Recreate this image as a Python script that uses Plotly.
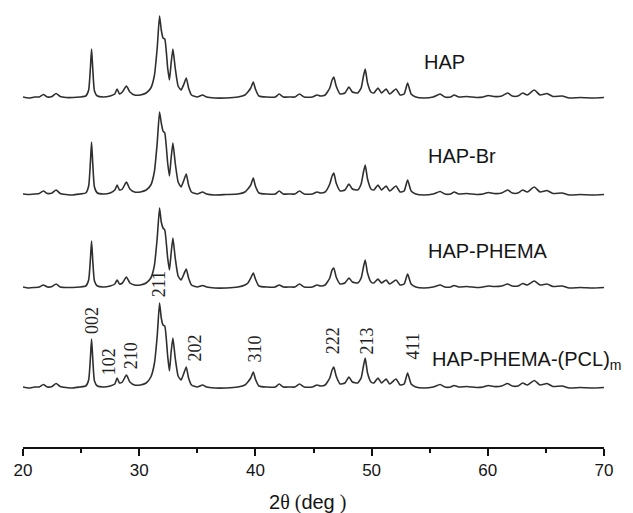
import plotly.graph_objects as go

# 2-theta grid (deg) shared by the four patterns (vertices)
two_theta = [
    20.0, 20.5, 21.0, 21.4, 21.75, 22.1, 22.5, 22.85, 23.2, 23.7,
    24.3, 24.9, 25.4, 25.65, 25.8, 25.9, 26.0, 26.15, 26.4, 26.9,
    27.5, 27.9, 28.1, 28.3, 28.55, 28.9, 29.2, 29.6, 30.1, 30.6,
    31.0, 31.3, 31.55, 31.75, 31.9, 32.05, 32.2, 32.45, 32.6, 32.75,
    32.9, 33.1, 33.35, 33.6, 33.85, 34.05, 34.25, 34.5, 35.0, 35.45,
    35.8, 36.5, 37.5, 38.5, 39.1, 39.35, 39.6, 39.82, 40.0, 40.3,
    41.0, 41.7, 42.05, 42.4, 43.0, 43.4, 43.8, 44.2, 44.9, 45.3,
    45.6, 46.0, 46.4, 46.6, 46.75, 46.95, 47.3, 47.7, 48.05, 48.35,
    48.8, 49.1, 49.3, 49.45, 49.65, 49.95, 50.2, 50.55, 50.85, 51.25,
    51.55, 52.1, 52.45, 52.8, 53.1, 53.4, 53.8, 54.5, 55.3, 55.9,
    56.3, 56.8, 57.1, 57.5, 58.2, 59.0, 59.6, 60.05, 60.5, 61.2,
    61.7, 62.1, 62.6, 63.0, 63.4, 64.0, 64.5, 65.1, 65.6, 66.4,
    67.0, 68.0, 69.0, 70.0,
]

# intensities (a.u.) for each sample
hap = [
    1, 0, 1, 1, 3.5, 1, 1.5, 4.5, 1.5, 0.5,
    0.5, 1, 2, 8, 30, 49, 30, 7, 2, 1,
    2, 4, 9, 4, 6, 12, 6, 3, 3, 5,
    10, 22, 50, 82, 68, 60, 59, 30, 18, 35,
    49, 30, 12, 8, 14, 20, 10, 3, 1, 3,
    1, 0, 0, 1, 3, 6, 10, 16, 9, 2,
    1, 1, 4, 1, 1, 1, 4, 1, 1, 3,
    2, 3, 10, 18, 21, 12, 4, 5, 11, 6,
    5, 10, 22, 29, 15, 6, 5, 10, 5, 9,
    4, 9, 3, 4, 15, 4, 1, 0, 1, 4,
    1, 1, 3, 1, 1.5, 0.5, 1, 2.5, 1.5, 2,
    5, 2, 2, 5, 3, 8, 3, 4.5, 1.5, 2,
    0, 0.5, 0, 0.5,
]
hap_br = [
    1, 0.5, 1, 1.5, 4, 1.5, 2, 5, 1.5, 0.5,
    0, 1, 2, 9, 33, 53, 32, 8, 2, 1,
    2, 5, 10, 5, 6, 13, 6, 3, 3, 5,
    10, 23, 52, 83, 72, 64, 62, 32, 19, 37,
    52, 32, 13, 8, 15, 21, 10, 3, 1, 3,
    1, 0, 0.5, 1, 3, 6, 10, 17, 9, 2,
    1, 1, 4, 1, 1, 1, 4, 1, 1, 3,
    2, 3, 11, 19, 22, 12, 4, 5, 11, 6,
    5, 11, 23, 30, 16, 6, 5, 10, 5, 9,
    4, 9, 3, 4, 15, 4, 1, 0, 1, 3.5,
    1, 1, 3, 1, 1.5, 0.5, 1, 2.5, 1.5, 2,
    5, 2, 2, 5, 3, 8, 3, 4.5, 1.5, 2,
    0, 0.5, 0, 0.5,
]
hap_phema = [
    1, 0, 0.5, 1, 3, 1, 1.5, 4, 1, 0.5,
    0.5, 1, 2, 8, 29, 47, 28, 7, 2, 1,
    2, 4, 8, 4, 5, 11, 5, 3, 3, 5,
    10, 22, 50, 80, 66, 60, 58, 30, 18, 35,
    50, 30, 12, 8, 14, 19, 10, 3, 1, 2.5,
    1, 0, 0, 1, 3, 5, 10, 15, 9, 2,
    1, 1, 3, 1, 1, 1, 4, 1, 1, 3,
    2, 3, 10, 18, 20, 11, 4, 5, 10, 6,
    5, 10, 21, 28, 15, 6, 5, 9, 5, 8,
    4, 8, 3, 4, 14, 4, 1, 0, 1, 3,
    1, 1, 2.5, 1, 1.5, 0.5, 1, 2, 1.5, 2,
    4, 2, 2, 4.5, 3, 7, 3, 4, 1.5, 2,
    0, 0.5, 0, 0.5,
]
hap_phema_pcl = [
    1, 0, 1, 1, 3.5, 1, 1.5, 4.5, 1.5, 0.5,
    0, 1, 2, 8, 30, 49, 30, 7, 2, 1,
    2, 4, 10, 5, 6, 13, 6, 3, 3, 5,
    11, 24, 52, 85, 70, 63, 62, 32, 17, 36,
    50, 30, 12, 8, 15, 21, 10, 3, 1, 3,
    1, 0, 0, 1, 3, 6, 10, 16, 9, 2,
    1, 1, 4, 1, 1, 1, 4, 1, 1, 3,
    2, 3, 10, 18, 21, 12, 4, 5, 11, 6,
    5, 10, 22, 30, 15, 6, 5, 10, 5, 9,
    4, 9, 3, 4, 15, 4, 1, 0, 1, 3.5,
    1, 1, 2.5, 1, 1.5, 0.5, 1, 2.5, 1.5, 2,
    4.5, 2, 2, 5, 3, 7.5, 3, 4.5, 1.5, 2,
    0, 0.5, 0, 0.5,
]

series_names = ["HAP", "HAP-Br", "HAP-PHEMA", "HAP-PHEMA-(PCL)<sub>m</sub>"]
series_values = [hap, hap_br, hap_phema, hap_phema_pcl]

# reflections (Miller indices) marked on the bottom pattern
hkl_labels = ["002", "102", "210", "211", "202", "310", "222", "213", "411"]

x_ticks = [20, 30, 40, 50, 60, 70]

# --- styling / placement (not data) ---
offsets = [349, 252, 159, 59]
name_pos = [(54.3, 385), (54.65, 291), (54.65, 196), (55.0, 87)]
hkl_pos = [(25.94, 126), (27.43, 85), (29.32, 91), (31.73, 163), (34.84, 99),
           (40.0, 98), (46.71, 106), (49.64, 106), (53.6, 101)]

fig = go.Figure()
for vals, off in zip(series_values, offsets):
    fig.add_trace(go.Scatter(
        x=two_theta, y=[v + off for v in vals], mode="lines",
        line=dict(color="#2f2f2f", width=1.6, shape="spline", smoothing=0.5),
        showlegend=False, hoverinfo="skip"))

annotations = []
for name, (ax_, ay_) in zip(series_names, name_pos):
    annotations.append(dict(x=ax_, y=ay_, xref="x", yref="y", text=name, showarrow=False,
                            xanchor="left", yanchor="middle",
                            font=dict(family="Liberation Sans, Arial", size=20, color="#151515")))
for lab, (ax_, ay_) in zip(hkl_labels, hkl_pos):
    annotations.append(dict(x=ax_, y=ay_, xref="x", yref="y", text=lab, showarrow=False,
                            textangle=-90, xanchor="center", yanchor="middle",
                            font=dict(family="Liberation Serif, Times New Roman", size=18, color="#222")))
annotations.append(dict(x=0.49, y=0, xref="paper", yref="paper", showarrow=False,
                        xanchor="center", yanchor="middle", yshift=-55,
                        text=("2<span style='font-family:Liberation Serif;font-size:20px'>θ (</span>"
                              "deg<span style='font-family:Liberation Serif;font-size:20px'> )</span>"),
                        font=dict(family="Liberation Sans, Arial", size=20, color="#151515")))

fig.update_layout(
    width=633, height=513,
    margin=dict(l=23, r=29, t=0, b=66),
    paper_bgcolor="white", plot_bgcolor="white",
    annotations=annotations,
    xaxis=dict(range=[20, 70], tickvals=x_ticks, ticks="outside", ticklen=7, tickwidth=1.5,
               tickcolor="#111", showline=True, linecolor="#111", linewidth=1.5,
               showgrid=False, zeroline=False,
               minor=dict(dtick=5, tick0=20, ticks="outside", ticklen=4, tickwidth=1.5, tickcolor="#111", showgrid=False),
               tickfont=dict(family="Liberation Sans, Arial", size=17, color="#151515")),
    yaxis=dict(range=[0, 447], visible=False, showgrid=False, zeroline=False),
)

fig.write_html("out.html")
